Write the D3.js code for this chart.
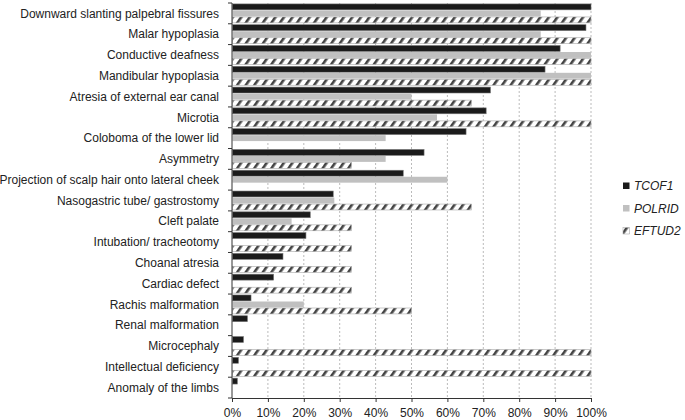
<!DOCTYPE html>
<html>
<head>
<meta charset="utf-8">
<script src="https://cdn.jsdelivr.net/npm/d3@7"></script>
<style>
  body { margin: 0; background: #fff; }
  svg { display: block; font-family: "Liberation Sans", Arial, sans-serif; }
</style>
</head>
<body>
<div id="chart"></div>
<script>
// categories, top to bottom
var categories = [
    "Downward slanting palpebral fissures",
    "Malar hypoplasia",
    "Conductive deafness",
    "Mandibular hypoplasia",
    "Atresia of external ear canal",
    "Microtia",
    "Coloboma of the lower lid",
    "Asymmetry",
    "Projection of scalp hair onto lateral cheek",
    "Nasogastric tube/ gastrostomy",
    "Cleft palate",
    "Intubation/ tracheotomy",
    "Choanal atresia",
    "Cardiac defect",
    "Rachis malformation",
    "Renal malformation",
    "Microcephaly",
    "Intellectual deficiency",
    "Anomaly of the limbs"
];

var seriesNames = ["TCOF1", "POLRID", "EFTUD2"];

// percentages
var tcof1 = [100, 98.6, 91.4, 87.2, 72, 70.8, 65.2, 53.5, 47.7, 28.2, 21.8, 20.6, 14.2, 11.6, 5.3, 4.3, 3.2, 1.8, 1.5];
var polrid = [86, 86, 100, 100, 50, 57.1, 42.8, 42.8, 60, 28.5, 16.6, 0, 0, 0, 20, 0, 0, 0, 0];
var eftud2 = [100, 100, 100, 100, 66.7, 100, 0, 33.3, 0, 66.7, 33.3, 33.3, 33.3, 33.3, 50, 0, 100, 100, 0];

var xTicks = [0, 10, 20, 30, 40, 50, 60, 70, 80, 90, 100];

var width = 685, height = 420;
var margin = { top: 3, left: 232, right: 94, bottom: 22 };
var plotW = width - margin.left - margin.right;
var plotH = height - margin.top - margin.bottom;

var svg = d3.select("#chart").append("svg")
    .attr("width", width)
    .attr("height", height);

// hatch for EFTUD2
var defs = svg.append("defs");
var pat = defs.append("pattern")
    .attr("id", "hatch")
    .attr("patternUnits", "userSpaceOnUse")
    .attr("width", 7)
    .attr("height", 7)
    .attr("patternTransform", "rotate(35)");
pat.append("rect").attr("width", 7).attr("height", 7).attr("fill", "#fff");
pat.append("rect").attr("x", 0).attr("width", 2.6).attr("height", 7).attr("fill", "#444");

var x = d3.scaleLinear().domain([0, 100]).range([0, plotW]);
var y = d3.scaleBand().domain(categories).range([0, plotH]).paddingInner(0.06).paddingOuter(0.03);
var ySub = d3.scaleBand().domain(seriesNames).range([0, y.bandwidth()]).padding(0);

var g = svg.append("g").attr("transform", "translate(" + margin.left + "," + margin.top + ")");

// dashed grid
g.append("g").selectAll("line")
    .data(xTicks.slice(1))
    .enter().append("line")
    .attr("x1", function (d) { return x(d); })
    .attr("x2", function (d) { return x(d); })
    .attr("y1", 0)
    .attr("y2", plotH)
    .attr("stroke", "#aaa")
    .attr("stroke-width", 0.8)
    .attr("stroke-dasharray", "2,2");

var rows = categories.map(function (c, i) {
    return { cat: c, vals: [tcof1[i], polrid[i], eftud2[i]] };
});

var fills = { TCOF1: "#1b1b1b", POLRID: "#c0c0c0", EFTUD2: "url(#hatch)" };
var strokes = { TCOF1: "#777", POLRID: "none", EFTUD2: "#a8a8a8" };

var groups = g.append("g").selectAll("g")
    .data(rows)
    .enter().append("g")
    .attr("transform", function (d) { return "translate(0," + y(d.cat) + ")"; });

groups.selectAll("rect")
    .data(function (d) {
        return d.vals.map(function (v, j) { return { s: seriesNames[j], v: v }; });
    })
    .enter().append("rect")
    .filter(function (d) { return d.v > 0; })
    .attr("x", 0.5)
    .attr("y", function (d) { return ySub(d.s) + 0.3; })
    .attr("width", function (d) { return x(d.v) - 0.5; })
    .attr("height", ySub.bandwidth() - 0.6)
    .attr("fill", function (d) { return fills[d.s]; })
    .attr("stroke", function (d) { return strokes[d.s]; })
    .attr("stroke-width", 0.6);

// left axis: labels centred on bands, ticks on band borders
var borders = d3.range(categories.length + 1).map(function (i) { return i * plotH / categories.length; });
g.append("g").selectAll("line")
    .data(borders)
    .enter().append("line")
    .attr("x1", -4).attr("x2", 0)
    .attr("y1", function (d) { return d; })
    .attr("y2", function (d) { return d; })
    .attr("stroke", "#333");

g.append("g").selectAll("text")
    .data(categories)
    .enter().append("text")
    .attr("x", -13)
    .attr("y", function (d) { return y(d) + y.bandwidth() / 2; })
    .attr("dy", "0.35em")
    .attr("text-anchor", "end")
    .attr("font-size", 12)
    .attr("fill", "#222")
    .text(function (d) { return d; });

g.append("line")
    .attr("x1", 0).attr("x2", 0)
    .attr("y1", 0).attr("y2", plotH)
    .attr("stroke", "#333");

// bottom axis
var xAxis = d3.axisBottom(x)
    .tickValues(xTicks)
    .tickSize(4)
    .tickFormat(function (d) { return d + "%"; });
var ax = g.append("g").attr("transform", "translate(0," + plotH + ")").call(xAxis);
ax.select(".domain").attr("stroke", "#333");
ax.selectAll(".tick line").attr("stroke", "#333");
ax.selectAll("text")
    .attr("font-size", 12)
    .attr("font-family", "Liberation Sans, Arial, sans-serif")
    .attr("fill", "#222")
    .attr("dy", "1em");

// legend
var legend = svg.append("g").attr("transform", "translate(623,186)");
var li = legend.selectAll("g")
    .data(seriesNames)
    .enter().append("g")
    .attr("transform", function (d, i) { return "translate(0," + i * 22.5 + ")"; });
li.append("rect")
    .attr("width", 6.5).attr("height", 6.5)
    .attr("y", -3.5)
    .attr("fill", function (d) { return fills[d]; })
    .attr("stroke", function (d) { return d == "EFTUD2" ? "#aaa" : "none"; })
    .attr("stroke-width", 0.6);
li.append("text")
    .attr("x", 11)
    .attr("y", 0)
    .attr("dy", "0.35em")
    .attr("font-size", 12)
    .attr("font-style", "italic")
    .attr("fill", "#222")
    .text(function (d) { return d; });
</script>
</body>
</html>
